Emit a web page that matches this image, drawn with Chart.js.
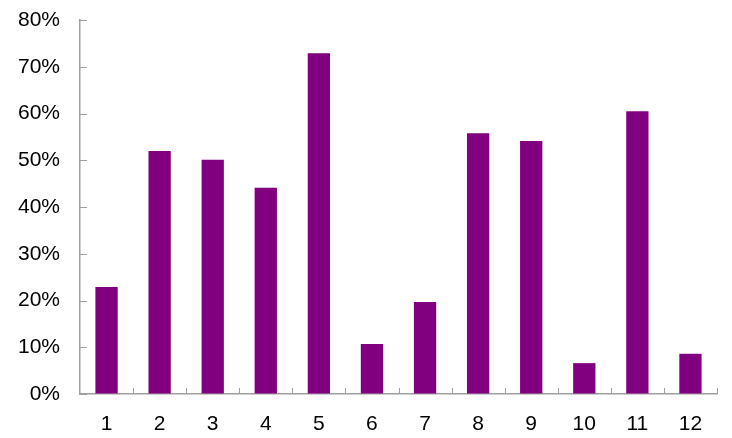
<!DOCTYPE html>
<html>
<head>
<meta charset="utf-8">
<script src="https://cdn.jsdelivr.net/npm/chart.js@4/dist/chart.umd.min.js"></script>
<style>
  html, body { margin: 0; padding: 0; background: #fff; }
  #wrap { width: 732px; height: 438px; position: relative; }
</style>
</head>
<body>
<div id="wrap"><canvas id="chart"></canvas></div>
<script>
// 数据
const categories = ['1', '2', '3', '4', '5', '6', '7', '8', '9', '10', '11', '12'];
const shares = [22.9, 52.0, 50.1, 44.1, 72.9, 10.7, 19.7, 55.8, 54.1, 6.6, 60.5, 8.6];
const yTicks = [0, 10, 20, 30, 40, 50, 60, 70, 80];

const AXIS_COLOR = '#a0a0a0';
const FONT = { family: '"Liberation Sans", Arial, sans-serif', size: 21 };

// 向内的刻度线
const innerTicks = {
  id: 'innerTicks',
  afterDatasetsDraw(chart) {
    const { ctx, scales: { x, y } } = chart;
    ctx.save();
    ctx.strokeStyle = AXIS_COLOR;
    ctx.lineWidth = 1;
    ctx.beginPath();
    yTicks.forEach(v => {
      const py = Math.round(y.getPixelForValue(v)) + 0.5;
      ctx.moveTo(x.left, py);
      ctx.lineTo(x.left + 7, py);
    });
    const n = categories.length;
    for (let i = 1; i <= n; i++) {
      const px = Math.round(x.left + i * (x.width / n)) + 0.5;
      ctx.moveTo(px, y.bottom);
      ctx.lineTo(px, y.bottom - 6);
    }
    ctx.stroke();
    ctx.restore();
  },
};

new Chart(document.getElementById('chart'), {
  type: 'bar',
  data: {
    labels: categories,
    datasets: [{
      data: shares,
      backgroundColor: '#800080',
      borderWidth: 0,
      categoryPercentage: 1,
      barPercentage: 0.42,
    }],
  },
  options: {
    responsive: true,
    maintainAspectRatio: false,
    animation: false,
    layout: { padding: { top: 20, right: 15, left: 0, bottom: 0 } },
    plugins: {
      legend: { display: false },
      tooltip: { enabled: false },
    },
    scales: {
      x: {
        grid: { display: true, drawOnChartArea: false, drawTicks: false, color: AXIS_COLOR },
        border: { color: AXIS_COLOR, width: 1.5 },
        ticks: {
          color: '#000',
          padding: 18,
          font: FONT,
          maxRotation: 0,
        },
        afterFit: (scale) => { scale.height = 44; },
      },
      y: {
        min: 0,
        max: 80,
        grid: { display: true, drawOnChartArea: false, drawTicks: false, color: 'rgba(0,0,0,0)' },
        border: { color: AXIS_COLOR, width: 1.5 },
        ticks: {
          stepSize: 10,
          color: '#000',
          padding: 20,
          font: FONT,
          callback: (v) => v + '%',
        },
        afterFit: (scale) => {
          scale.width = 80;
          scale.paddingTop = 0;
          scale.paddingBottom = 0;
        },
      },
    },
  },
  plugins: [innerTicks],
});
</script>
</body>
</html>
